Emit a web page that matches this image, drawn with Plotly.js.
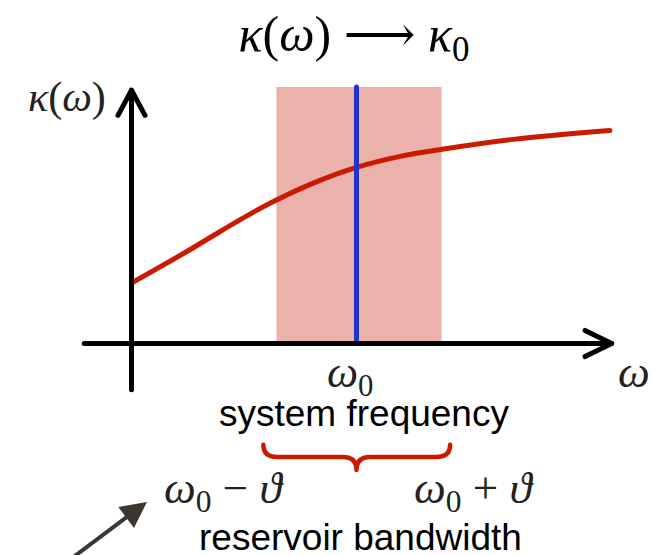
<!DOCTYPE html>
<html>
<head>
<meta charset="utf-8">
<script src="https://cdn.plot.ly/plotly-3.0.1.min.js"></script>
<style>html,body{margin:0;padding:0;background:#fff;}#chart{width:661px;height:555px;}</style>
</head>
<body>
<div id="chart"></div>
<script>
// ---- data (schematic units: origin where the two axes cross) ----
const omega = [0, 1.23, 1.97, 2.7, 3.21, 4.19, 5.0, 5.97, 6.9, 8.48, 10.63];
const kappa = [1.344, 2.044, 2.489, 2.913, 3.184, 3.624, 3.913, 4.158, 4.316, 4.536, 4.733];
const omega0 = 5.0;
const bandLo = 3.22;
const bandHi = 6.89;
const bandTop = 5.7;
const titleText = '<i>κ</i>(<i>ω</i>) ⟶ <i>κ</i><sub>0</sub>';
const yLabel = '<i>κ</i>(<i>ω</i>)';
const xLabel = '<i>ω</i>';
const tickLabel = '<i>ω</i><sub>0</sub>';
const sysLabel = 'system frequency';
const loLabel = '<i>ω</i><sub>0</sub> − <i>ϑ</i>';
const hiLabel = '<i>ω</i><sub>0</sub> + <i>ϑ</i>';
const resLabel = 'reservoir bandwidth';

// ---- layout geometry ----
const W = 661, H = 555, px0 = 131.5, py0 = 343.5, S = 45;
const xr = [-px0 / S, (W - px0) / S];
const yr = [(py0 - H) / S, py0 / S];
const xMin = -1.05, xMax = 10.67, yMin = -1.03, yMax = 5.63;
const P = pts => pts.map((p, i) => (i ? 'L' : 'M') + p[0] + ',' + p[1]).join(' ');

const mathFont = 'Liberation Serif, DejaVu Serif, serif';
const sansFont = 'Liberation Sans, Arial, sans-serif';

const traces = [
  {x: omega, y: kappa, mode: 'lines', line: {color: '#cc1a00', width: 5, shape: 'spline', smoothing: 1}, hoverinfo: 'skip'},
  {x: [omega0, omega0], y: [0, bandTop], mode: 'lines', line: {color: '#2035c8', width: 5}, hoverinfo: 'skip'}
];

const bl = bandLo - 0.29, bh = bandHi + 0.19, bm = omega0;
const by0 = -2.25, by1 = -2.52, by2 = -2.81;
const bracePath = `M${bl},${by0} Q${bl},${by1} ${bl+0.3},${by1} L${bm-0.3},${by1} Q${bm},${by1} ${bm},${by2} Q${bm},${by1} ${bm+0.3},${by1} L${bh-0.3},${by1} Q${bh},${by1} ${bh},${by0}`;

const shapes = [
  {type: 'rect', xref: 'x', yref: 'y', x0: bandLo, x1: bandHi, y0: 0, y1: bandTop, fillcolor: '#eab2aa', line: {width: 0}, layer: 'below'},
  {type: 'line', xref: 'x', yref: 'y', x0: xMin, x1: xMax, y0: 0, y1: 0, line: {color: '#000', width: 5}},
  {type: 'line', xref: 'x', yref: 'y', x0: 0, x1: 0, y0: yMin, y1: yMax, line: {color: '#000', width: 5}},
  {type: 'path', xref: 'x', yref: 'y', path: P([[xMax - 0.59, 0.29], [xMax, 0], [xMax - 0.59, -0.29]]), line: {color: '#000', width: 5}},
  {type: 'path', xref: 'x', yref: 'y', path: P([[-0.3, yMax - 0.56], [0, yMax], [0.3, yMax - 0.56]]), line: {color: '#000', width: 5}},
  {type: 'path', xref: 'x', yref: 'y', path: bracePath, line: {color: '#cc1a00', width: 4.5}}
];

const ann = (x, y, text, font, size, color) => ({x, y, xref: 'x', yref: 'y', text, showarrow: false,
  xanchor: 'center', yanchor: 'middle', borderpad: 0, font: {family: font, size, color: color || '#222'}});

const annotations = [
  ann(-1.43, 5.46, yLabel, mathFont, 42),
  ann(11.17, -0.63, xLabel, mathFont, 45),
  ann(4.86, -0.7, tickLabel, mathFont, 44),
  ann(5.17, -1.56, sysLabel, sansFont, 37, '#000'),
  ann(2.05, -3.28, loLabel, mathFont, 45),
  ann(7.62, -3.28, hiLabel, mathFont, 45),
  ann(5.08, -4.3, resLabel, sansFont, 37, '#000'),
  {x: 0.344, y: -3.52, ax: -2.03, ay: -5.3, xref: 'x', yref: 'y', axref: 'x', ayref: 'y', text: '',
   showarrow: true, arrowhead: 2, arrowsize: 1.3, arrowwidth: 4, arrowcolor: '#3b3631'}
];

const layout = {
  width: W, height: H, autosize: false,
  margin: {l: 0, r: 0, t: 0, b: 0, pad: 0},
  paper_bgcolor: '#fff', plot_bgcolor: '#fff', showlegend: false,
  title: {text: titleText, x: 354 / W, y: 1 - 33 / H, xref: 'paper', yref: 'paper', xanchor: 'center', yanchor: 'middle',
          font: {family: mathFont, size: 50, color: '#000'}},
  xaxis: {range: xr, visible: false, fixedrange: true},
  yaxis: {range: yr, visible: false, fixedrange: true},
  shapes, annotations
};

Plotly.newPlot('chart', traces, layout, {staticPlot: true, displayModeBar: false}).then(() => {
  document.querySelectorAll('.shapelayer path, .scatterlayer path').forEach(p => {
    p.style.strokeLinecap = 'round';
    p.style.strokeLinejoin = 'round';
  });
});
</script>
</body>
</html>
